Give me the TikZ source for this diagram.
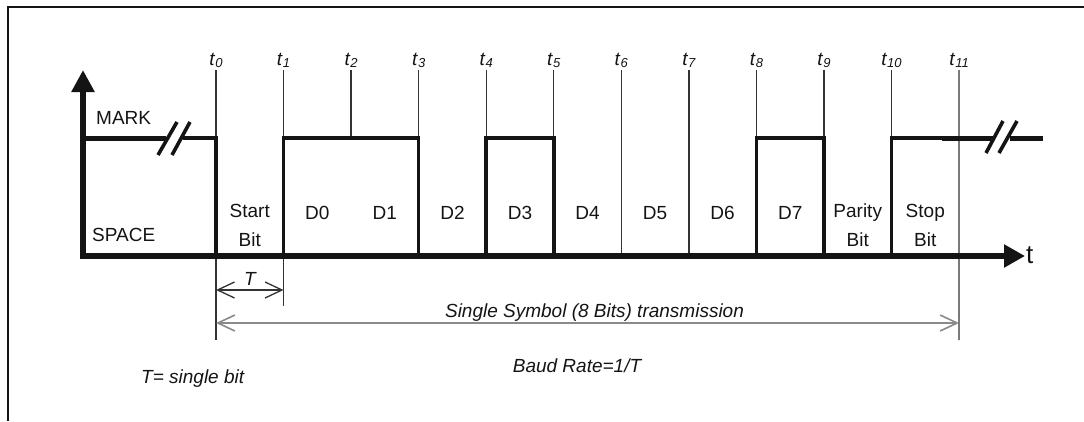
\documentclass[tikz,border=0pt]{standalone}
\usepackage{fontspec}
\setmainfont{Liberation Sans}
\usetikzlibrary{arrows.meta}

\definecolor{ink}{HTML}{141414}
\definecolor{tickc}{HTML}{333333}
\definecolor{dimc}{HTML}{8A8A8A}

% subscripted time label t_n
\newcommand\tlab[1]{\textit{t}\raisebox{-2pt}{\fontsize{13}{13}\selectfont\itshape #1}}

\begin{document}
\begin{tikzpicture}[x=1pt,y=-1pt,
  lbl/.style={font=\fontsize{19}{23}\selectfont, text=ink, inner sep=0pt},
  ilbl/.style={lbl, font=\fontsize{19}{23}\selectfont\itshape},
  tickline/.style={draw=tickc, line width=1.3pt},
  sig/.style={draw=ink, line width=3.6pt, line join=miter},
  idle/.style={draw=ink, line width=5pt},
  brk/.style={draw=ink, line width=3.6pt},
  axisline/.style={draw=ink, line width=6pt},
  barb/.tip={Straight Barb[length=17pt,width=16pt]},
  dimT/.style={draw=tickc, line width=1.3pt, barb-barb},
  dimS/.style={draw=dimc, line width=1.6pt, barb-barb}]

\useasboundingbox (0,0) rectangle (1084,421);

% frame (left and top edges)
\draw[ink, line width=2pt] (8,421) -- (8,7) -- (1084,7);

% bit boundaries t0 ... t11
\foreach \k in {0,...,11}{
  \pgfmathsetmacro\xx{216+67.55*\k}
  \coordinate (a\k) at (\xx,70);
  \coordinate (h\k) at (\xx,138);
  \coordinate (l\k) at (\xx,256);
  \node[lbl, anchor=base] (lt\k) at (\xx,65) {\tlab{\k}};
}
\coordinate (b0) at (216,340);
\coordinate (b1) at (283.55,306);
\coordinate (b11) at (959,340);

% thin time markers
\foreach \k in {2,3,4,5,8,9,10}{ \draw[tickline] (a\k) -- (h\k); }
\draw[tickline] (a6) -- (l6);
\draw[tickline] (a7) -- (l7);
\draw[tickline] (a0) -- (b0);
\draw[tickline] (a1) -- (b1);
\draw[tickline] (a11) -- (b11);

% idle line before and after the frame, with break marks
\coordinate (m0) at (83,138);
\coordinate (m1) at (166,138);
\coordinate (m2) at (183,138);
\coordinate (m3) at (942,138);
\coordinate (m4) at (993,138);
\coordinate (m5) at (1010,138);
\coordinate (m6) at (1043,138);
\draw[idle] (m0) -- (m1);
\draw[idle] (m3) -- (m4);
\draw[idle] (m5) -- (m6);
\draw[brk] (158,155) -- (177,122);
\draw[brk] (172,155) -- (190,122);
\draw[brk] (986,153) -- (1003,121);
\draw[brk] (999,153) -- (1017,121);

% the transmitted frame
\draw[sig] (m2) -- (h0) -- (l0) -- (l1) -- (h1) -- (h3) -- (l3) -- (l4) -- (h4)
  -- (h5) -- (l5) -- (l8) -- (h8) -- (h9) -- (l9) -- (l10) -- (h10) -- (m3);

% axes
\coordinate (o) at (83,259);
\coordinate (ytip) at (83,70);
\coordinate (o2) at (80,256);
\coordinate (xtip) at (1025,256);
\draw[axisline, -{Triangle[length=22pt,width=22pt]}] (o) -- (ytip);
\draw[axisline, -{Triangle[length=21pt,width=22pt]}] (o2) -- (xtip);
\node[lbl, font=\fontsize{26}{30}\selectfont, anchor=base west] (tax) at (1026,263) {t};

\node[lbl, anchor=base west] (mark) at (96,124.5) {MARK};
\node[lbl, anchor=base west] (space) at (92,241.5) {SPACE};

% bit names
\node[lbl, anchor=base] (st1) at ({216+67.55*0.5},217) {Start};
\node[lbl, anchor=base] (st2) at ({216+67.55*0.5},246) {Bit};
\foreach \k in {0,...,7}{
  \node[lbl, anchor=base] (d\k) at ({216+67.55*(\k+1.5)},219) {D\k};
}
\node[lbl, anchor=base] (pa1) at ({216+67.55*9.5},217) {Parity};
\node[lbl, anchor=base] (pa2) at ({216+67.55*9.5},246) {Bit};
\node[lbl, anchor=base] (sp1) at ({216+67.55*10.5},217) {Stop};
\node[lbl, anchor=base] (sp2) at ({216+67.55*10.5},246) {Bit};

% dimensions
\coordinate (T0) at (216,290);
\coordinate (T1) at (283.55,290);
\draw[dimT] (T0) -- (T1);
\node[ilbl, anchor=base] (tl) at (250,285) {T};

\coordinate (S0) at (216,323);
\coordinate (S1) at (959,323);
\draw[dimS] (S0) -- (S1);
\node[ilbl, anchor=base] (sym) at (594.5,317) {Single Symbol (8 Bits) transmission};

\node[ilbl, anchor=base] (baud) at (577,372) {Baud Rate=1/T};
\node[ilbl, anchor=base west] (tdef) at (141,383) {T= single bit};

\end{tikzpicture}
\end{document}
